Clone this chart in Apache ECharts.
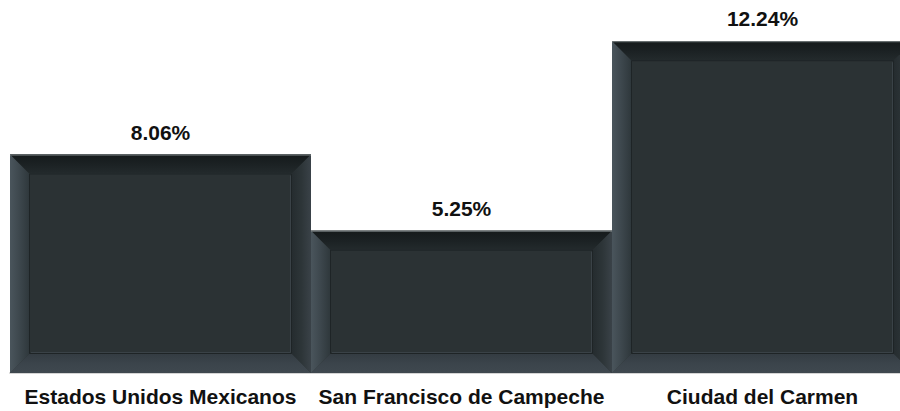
<!DOCTYPE html>
<html>
<head>
<meta charset="utf-8">
<script src="https://cdn.jsdelivr.net/npm/echarts@6/dist/echarts.min.js"></script>
<style>
html,body{margin:0;padding:0;background:#fff;}
#chart{width:900px;height:411px;}
</style>
</head>
<body>
<div id="chart"></div>
<script>
const categories = ['Estados Unidos Mexicanos', 'San Francisco de Campeche', 'Ciudad del Carmen'];
const values = [8.06, 5.25, 12.24];

const chart = echarts.init(document.getElementById('chart'), null, {renderer: 'svg'});
const G = echarts.graphic;
const BEV = 19;

function lg(x, y, x2, y2, stops) {
  return new G.LinearGradient(x, y, x2, y2, stops.map((c, i) => ({offset: i / (stops.length - 1), color: c})));
}

function renderItem(params, api) {
  const idx = api.value(0);
  const v = api.value(1);
  const top = api.coord([idx, v]);
  const base = api.coord([idx, 0]);
  const w = api.size([1, 0])[0];
  const x0 = top[0] - w / 2, x1 = top[0] + w / 2;
  const y0 = top[1], y1 = base[1];
  const b = BEV;
  const children = [
    {type: 'rect', shape: {x: x0, y: y0, width: x1 - x0, height: y1 - y0}, style: {fill: '#2b3234'}},
    {type: 'polygon', shape: {points: [[x0, y0], [x1, y0], [x1 - b, y0 + b], [x0 + b, y0 + b]]},
      style: {fill: lg(0, 0, 0, 1, ['#151a1b', '#1b2123', '#232a2c'])}},
    {type: 'polygon', shape: {points: [[x0, y1], [x0 + b, y1 - b], [x1 - b, y1 - b], [x1, y1]]},
      style: {fill: lg(0, 0, 0, 1, ['#343c42', '#3b444b', '#3f484f'])}},
    {type: 'polygon', shape: {points: [[x0, y0], [x0 + b, y0 + b], [x0 + b, y1 - b], [x0, y1]]},
      style: {fill: lg(0, 0, 1, 0, ['#4a555c', '#3d474d', '#2f383c'])}},
    {type: 'polygon', shape: {points: [[x1, y0], [x1, y1], [x1 - b, y1 - b], [x1 - b, y0 + b]]},
      style: {fill: lg(0, 0, 1, 0, ['#252c2f', '#2d3538', '#3a4248'])}},
    {type: 'rect', shape: {x: x0 + b + 0.5, y: y0 + b + 0.5, width: x1 - x0 - 2 * b - 1, height: y1 - y0 - 2 * b - 1},
      style: {fill: '#2b3234', stroke: '#1e2426', lineWidth: 1}},
    {type: 'polyline', shape: {points: [[x0 + b + 2, y1 - b - 1.5], [x1 - b - 1.5, y1 - b - 1.5], [x1 - b - 1.5, y0 + b + 2]]},
      style: {fill: null, stroke: '#3a4247', lineWidth: 1}},
    {type: 'line', shape: {x1: x0, y1: y0 + 0.5, x2: x1, y2: y0 + 0.5}, style: {stroke: '#7d8486', lineWidth: 1}}
  ];
  return {type: 'group', children: children};
}

chart.setOption({
  animation: false,
  grid: {left: 10, width: 903, top: 0, bottom: 38, containLabel: false, outerBoundsMode: 'none'},
  xAxis: {
    type: 'category',
    data: categories,
    axisLine: {show: true, lineStyle: {color: '#d4d4d4', width: 2}},
    axisTick: {show: false},
    axisLabel: {
      interval: 0, margin: 13, hideOverlap: false,
      fontFamily: 'Liberation Sans, Arial, sans-serif', fontWeight: 'bold', fontSize: 21, color: '#111'
    }
  },
  yAxis: {type: 'value', min: 0, max: 13.76, show: false, splitLine: {show: false}},
  series: [
    {
      type: 'bar',
      data: values,
      barWidth: '100%',
      barGap: '0%',
      itemStyle: {color: '#2b3234'},
      label: {
        show: true, position: 'top', distance: 12,
        formatter: p => p.value.toFixed(2) + '%',
        fontFamily: 'Liberation Sans, Arial, sans-serif', fontWeight: 'bold', fontSize: 21, color: '#111'
      },
      z: 1
    },
    {
      type: 'custom',
      renderItem: renderItem,
      data: values.map((v, i) => [i, v]),
      encode: {x: 0, y: 1},
      z: 2,
      silent: true
    }
  ]
});
</script>
</body>
</html>
